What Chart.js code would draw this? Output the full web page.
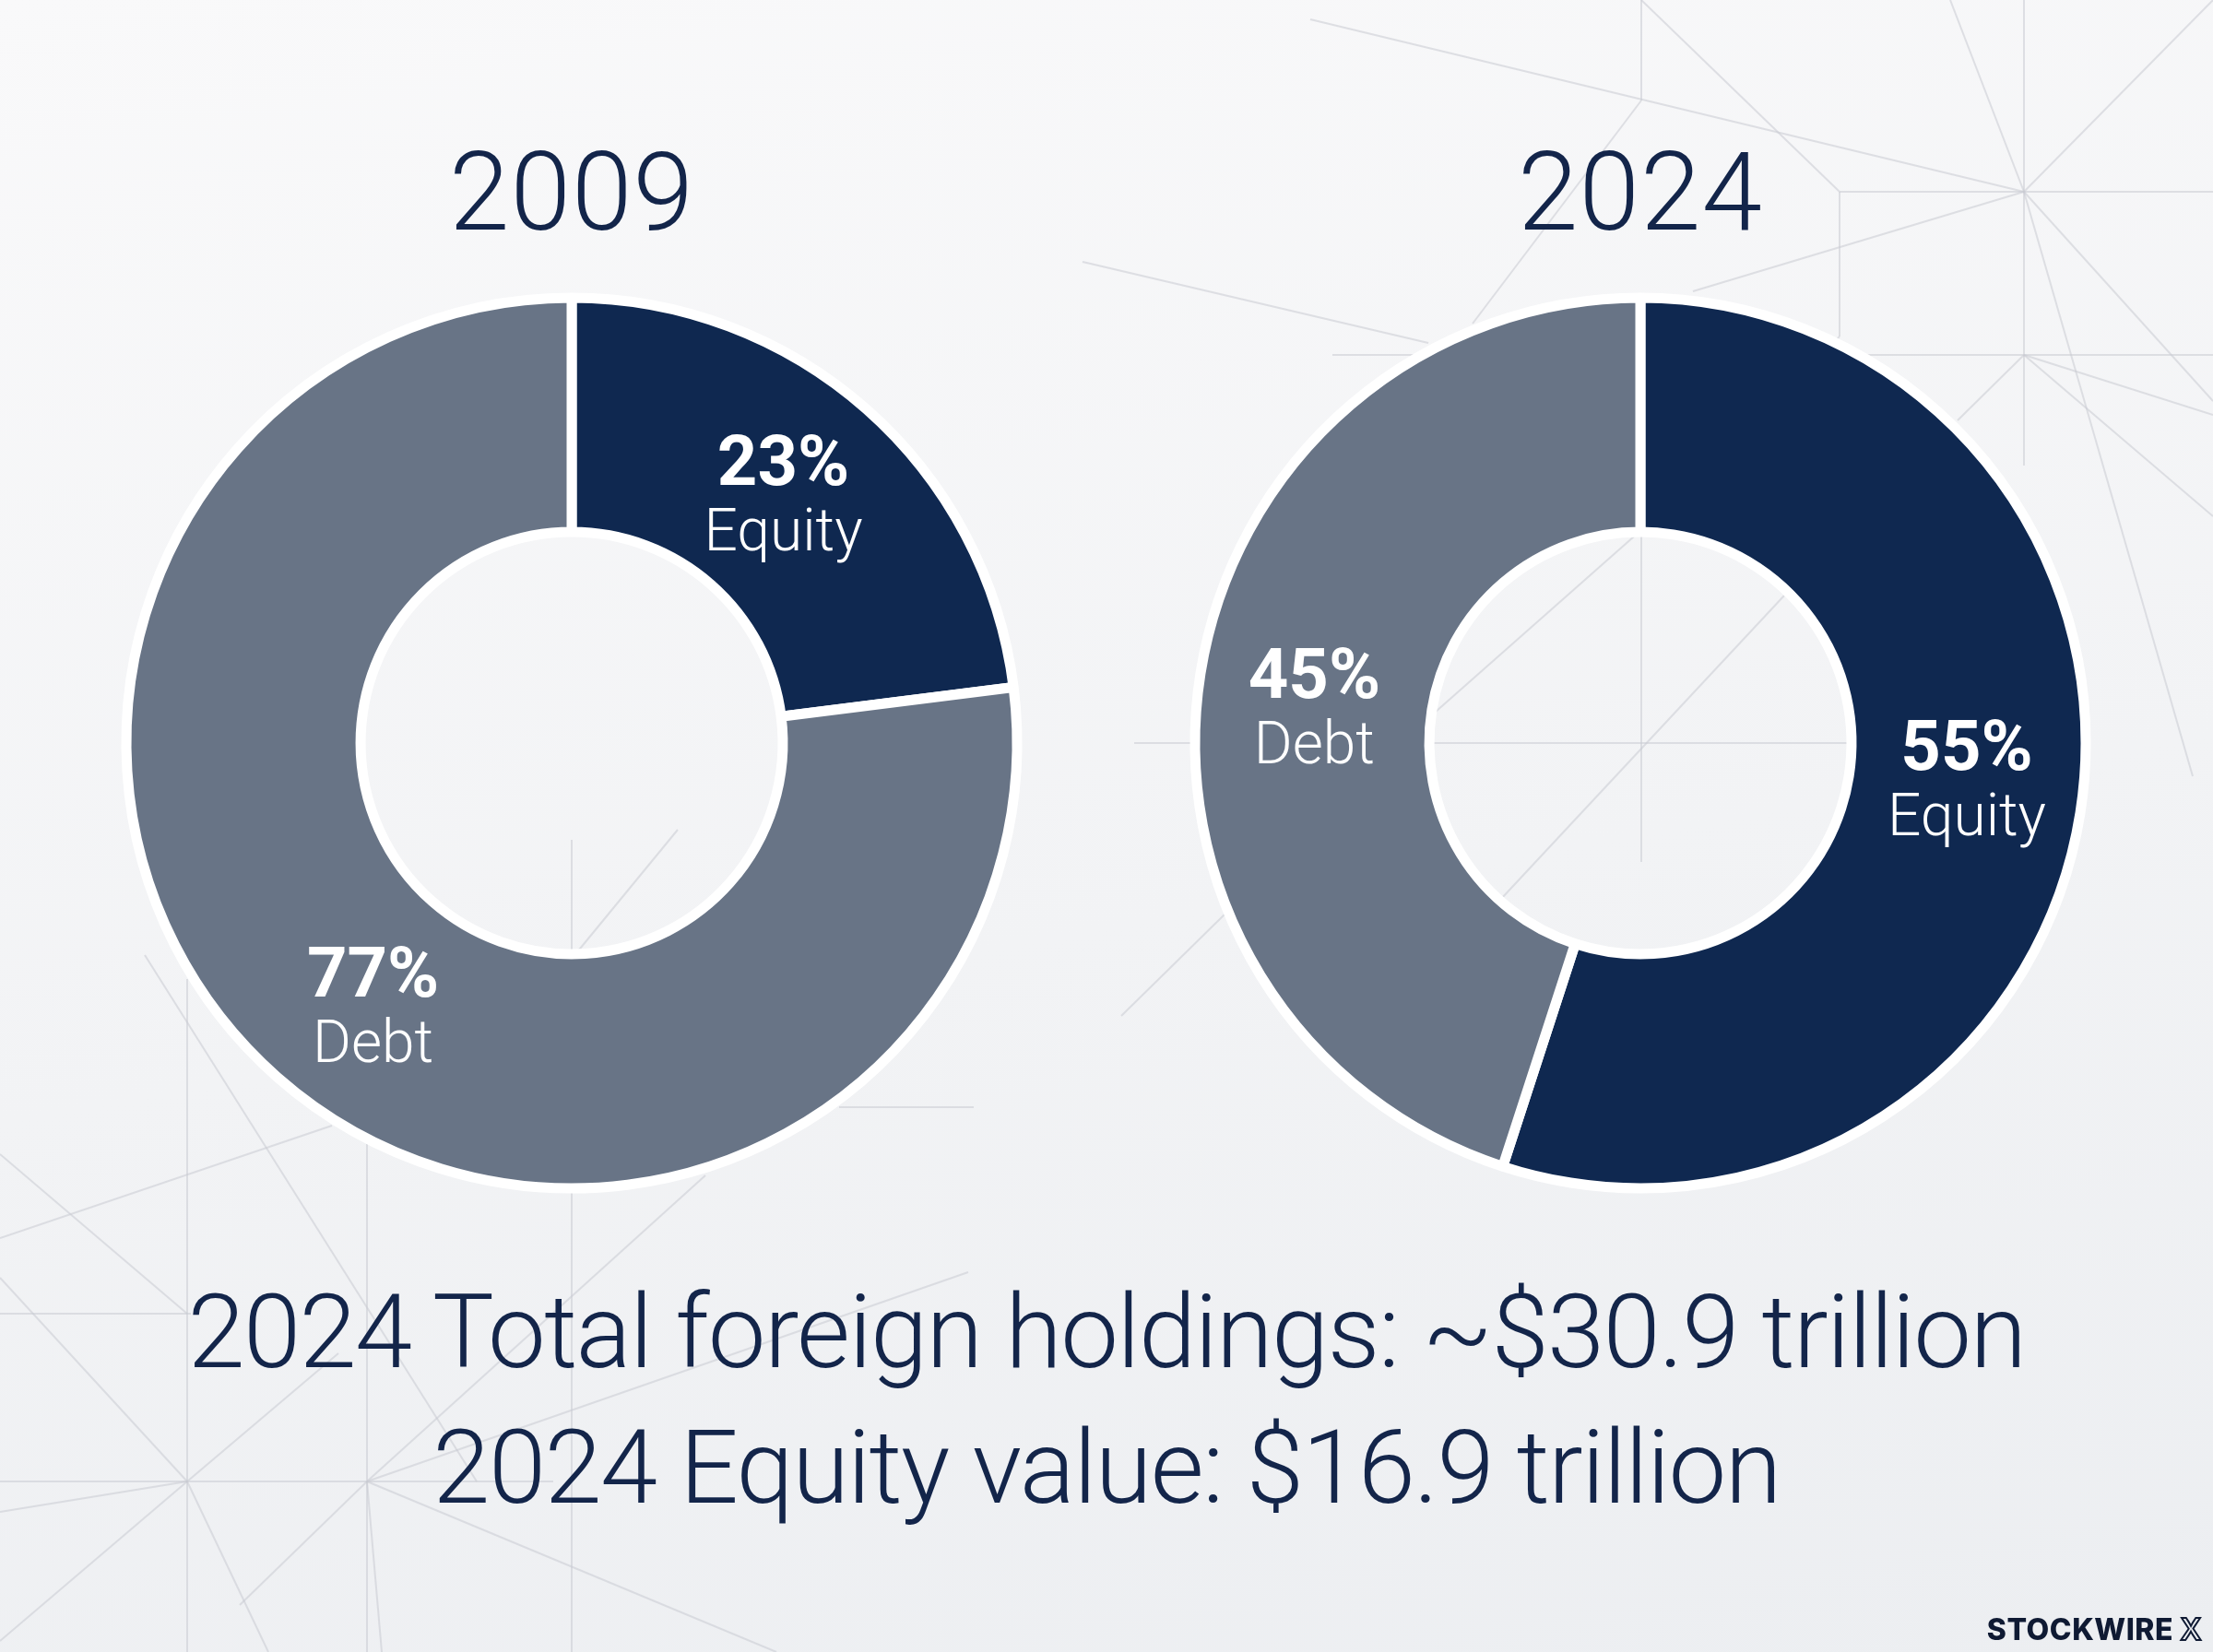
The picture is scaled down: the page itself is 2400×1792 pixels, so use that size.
<!DOCTYPE html>
<html>
<head>
<meta charset="utf-8">
<script src="https://cdn.jsdelivr.net/npm/chart.js@4.4.1/dist/chart.umd.min.js"></script>
<style>
  html, body { margin: 0; padding: 0; }
  body {
    width: 2400px; height: 1792px; position: relative; overflow: hidden;
    background: linear-gradient(170deg, #f9f9fa 0%, #f2f3f5 55%, #eceef1 100%);
    font-family: Roboto, sans-serif; color: #13254a;
  }
  #bg { position: absolute; left: 0; top: 0; }
  .donut { position: absolute; top: 256px; width: 1100px; height: 1100px; }
  .year {
    position: absolute; top: 150px; width: 600px; text-align: center;
    font-size: 118px; line-height: 118px; font-weight: 300; letter-spacing: 1px;
  }
  .foot {
    position: absolute; left: 0; width: 2400px; text-align: center;
    font-size: 112px; line-height: 112px; font-weight: 300; white-space: nowrap;
    letter-spacing: -1.6px;
  }
  #logo {
    position: absolute; right: 12px; top: 1752px;
    font-family: Inter, sans-serif; font-weight: 800; font-size: 32px; line-height: 32px;
    color: #0f1a33; letter-spacing: 0.5px;
  }
  #logo span { color: transparent; -webkit-text-stroke: 2px #0f1a33; font-weight: 600; }
</style>
</head>
<body>
<canvas id="bg" width="2400" height="1792"></canvas>
<div class="year" id="year0" style="left:320px"></div>
<div class="year" id="year1" style="left:1479px"></div>
<canvas class="donut" id="donut0" width="1100" height="1100" style="left:70px"></canvas>
<canvas class="donut" id="donut1" width="1100" height="1100" style="left:1229px"></canvas>
<div class="foot" id="foot1" style="top:1389px"></div>
<div class="foot" id="foot2" style="top:1536px"></div>
<div id="logo">STOCKWIRE <span>X</span></div>

<script>
// data
const years = ['2009', '2024'];
const sliceNames = ['Equity', 'Debt'];
const equityShare = [23, 55];
const debtShare = [77, 45];
const totalHoldings2024 = 30.9;  // trillion USD
const equityValue2024 = 16.9;    // trillion USD

const navy = '#0f2850';
const slate = '#687486';

// faint geometric lines behind everything (decoration only)
const bgLines = [
  [1421, 21, 2195, 208], [2195, 208, 2115, 0], [2195, 0, 2195, 505], [2195, 208, 2400, 0],
  [1995, 208, 2400, 208], [2195, 208, 1836, 316], [2195, 208, 2400, 435], [2195, 208, 2378, 842],
  [1445, 385, 2400, 385], [2195, 385, 2400, 560], [2195, 385, 2123, 456], [2195, 385, 2400, 450],
  [1174, 284, 1549, 372], [1780, 0, 1995, 208], [1995, 208, 1995, 365], [1780, 0, 1780, 109],
  [1780, 109, 1597, 351], [1780, 570, 1780, 935], [1546, 806, 2011, 806], [1557, 772, 1772, 582],
  [1628, 975, 1935, 646], [1995, 365, 1880, 480], [1230, 806, 1301, 806], [1216, 1102, 1330, 990],
  [203, 1062, 203, 1792], [398, 1241, 398, 1792], [0, 1607, 600, 1607], [620, 911, 620, 1040],
  [620, 1040, 735, 900], [620, 1292, 620, 1792], [157, 1036, 517, 1607], [0, 1343, 360, 1221],
  [0, 1252, 203, 1425], [0, 1425, 207, 1425], [0, 1386, 203, 1607], [203, 1607, 367, 1468],
  [203, 1607, 291, 1792], [203, 1607, 0, 1780], [398, 1607, 842, 1792], [398, 1607, 260, 1741],
  [398, 1607, 414, 1792], [398, 1607, 765, 1275], [398, 1607, 1050, 1380], [910, 1201, 1056, 1201],
  [0, 1640, 203, 1607]
];

function drawBackground() {
  const ctx = document.getElementById('bg').getContext('2d');
  ctx.strokeStyle = 'rgba(200, 203, 210, 0.55)';
  ctx.lineWidth = 2;
  bgLines.forEach(l => {
    ctx.beginPath();
    ctx.moveTo(l[0], l[1]);
    ctx.lineTo(l[2], l[3]);
    ctx.stroke();
  });
}

// percentage + name written inside each slice, a bit before the slice's mid angle
const sliceText = {
  id: 'sliceText',
  afterDatasetsDraw(chart) {
    const ctx = chart.ctx;
    const values = chart.data.datasets[0].data;
    chart.getDatasetMeta(0).data.forEach((arc, i) => {
      const { x, y, startAngle, endAngle, innerRadius, outerRadius } = arc.getProps(
        ['x', 'y', 'startAngle', 'endAngle', 'innerRadius', 'outerRadius'], true);
      const a = startAngle + (endAngle - startAngle) * 0.485;
      const r = (innerRadius + outerRadius) / 2;
      const px = x + Math.cos(a) * r;
      const py = y + Math.sin(a) * r;
      ctx.save();
      ctx.fillStyle = '#ffffff';
      ctx.textAlign = 'center';
      ctx.textBaseline = 'alphabetic';
      ctx.font = '700 76px Roboto';
      ctx.fillText(values[i] + '%', px, py - 8);
      ctx.font = '300 64px Roboto';
      ctx.fillText(chart.data.labels[i], px, py + 63);
      ctx.restore();
    });
  }
};

function makeDonut(canvasId, shares) {
  return new Chart(document.getElementById(canvasId), {
    type: 'doughnut',
    data: {
      labels: sliceNames,
      datasets: [{
        data: shares,
        backgroundColor: [navy, slate],
        borderColor: '#ffffff',
        borderWidth: 11
      }]
    },
    options: {
      responsive: false,
      animation: false,
      events: [],
      radius: 483,
      cutout: '47.4%',
      rotation: 0,
      layout: { padding: 0 },
      plugins: {
        legend: { display: false },
        tooltip: { enabled: false }
      }
    },
    plugins: [sliceText]
  });
}

drawBackground();

years.forEach((y, i) => {
  document.getElementById('year' + i).textContent = y;
  makeDonut('donut' + i, [equityShare[i], debtShare[i]]);
});

document.getElementById('foot1').textContent =
  `${years[1]} Total foreign holdings: ~$${totalHoldings2024.toFixed(1)} trillion`;
document.getElementById('foot2').textContent =
  `${years[1]} Equity value: $${equityValue2024.toFixed(1)} trillion`;
</script>
</body>
</html>
